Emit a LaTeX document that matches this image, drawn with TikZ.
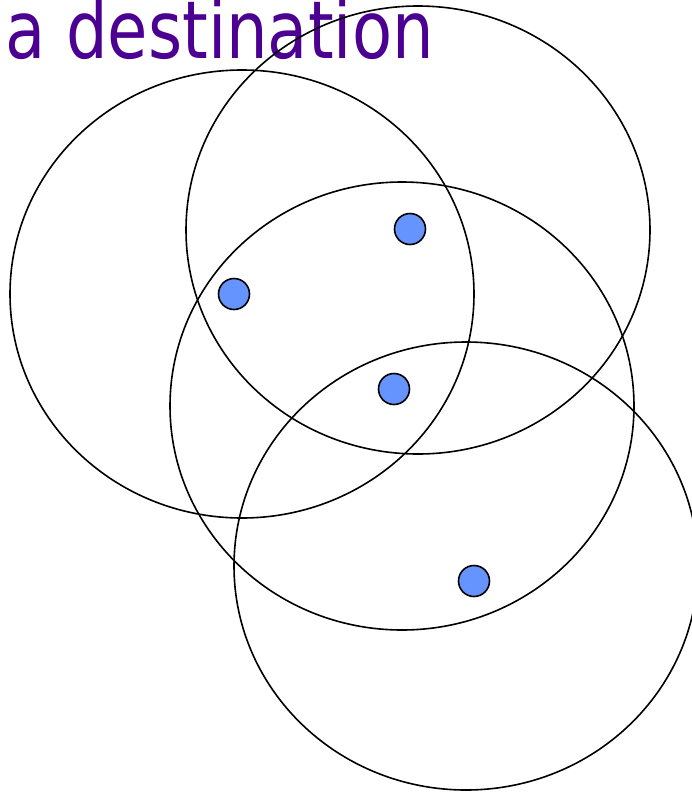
\documentclass[tikz,border=0pt]{standalone}
\usepackage{fontspec}
\setmainfont{DejaVu Sans}
\definecolor{titlepurple}{RGB}{76,0,146}
\definecolor{dotblue}{RGB}{102,148,255}
\begin{document}
\begin{tikzpicture}[x=1pt,y=-1pt,
  ring/.style={draw=black,line width=1.6pt},
  dot/.style={circle,draw=black,line width=1.6pt,fill=dotblue,minimum size=31pt,inner sep=0pt}]
\useasboundingbox (0,0) rectangle (692,793);
\begin{scope}
\clip (0,0) rectangle (692,793);
\node[anchor=base west,inner sep=0pt,text=titlepurple,xscale=0.82,font=\fontsize{80}{80}\selectfont] (title) at (5,58) {a destination};
\draw[ring] (242,294) ellipse [x radius=232,y radius=224];
\draw[ring] (418,230) ellipse [x radius=232,y radius=224];
\draw[ring] (402,406) ellipse [x radius=232,y radius=224];
\draw[ring] (466,566) ellipse [x radius=232,y radius=224];
\node[dot] (d1) at (410,229) {};
\node[dot] (d2) at (234,294) {};
\node[dot] (d3) at (394,389) {};
\node[dot] (d4) at (474,581) {};
\end{scope}
\end{tikzpicture}
\end{document}
